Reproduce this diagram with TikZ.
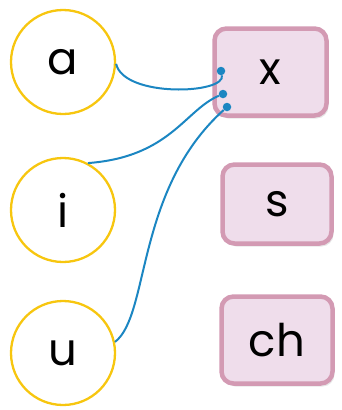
\documentclass[tikz,border=0pt]{standalone}
\usepackage{fontspec}
\setmainfont{Poppins}
\usetikzlibrary{shadows}
\definecolor{ring}{HTML}{F7C60F}
\definecolor{boxline}{HTML}{D39AB3}
\definecolor{boxfill}{HTML}{EFDDEB}
\definecolor{wire}{HTML}{1B86C2}
\tikzset{
 vowel/.style={circle,draw=ring,line width=2.3pt,minimum size=104pt,inner sep=0pt,font=\fontsize{45}{45}\selectfont},
 sound/.style={rectangle,rounded corners=12pt,draw=boxline,fill=boxfill,line width=4.5pt,inner sep=0pt,font=\fontsize{45}{45}\selectfont,
  drop shadow={shadow xshift=2pt,shadow yshift=-3pt,opacity=0.2}},
 dot/.style={circle,fill=wire,inner sep=0pt,minimum size=8.5pt},
 wire/.style={draw=wire,line width=2pt}
}
\begin{document}
\begin{tikzpicture}[x=1pt,y=-1pt]
 \useasboundingbox (0,0) rectangle (342,410);
 \node[vowel] (a) at (63,62) {a};
 \node[vowel] (i) at (63,210) {i};
 \node[vowel] (u) at (63,353) {u};
 \node[sound,minimum width=112pt,minimum height=87pt] (x) at (270.5,72) {x};
 \node[sound,minimum width=109pt,minimum height=79pt] (s) at (277,204) {s};
 \node[sound,minimum width=111pt,minimum height=87pt] (ch) at (277,340) {ch};
 \node[dot] (xa) at (221,71) {};
 \node[dot] (xi) at (223,94) {};
 \node[dot] (xu) at (227,107) {};
 \draw[wire] (a.-2) .. controls (124,98) and (226,94) .. (xa);
 \draw[wire] (i.62) .. controls (170,157) and (185,110) .. (xi);
 \draw[wire] (u.12) .. controls (150,315) and (135,190) .. (xu);
\end{tikzpicture}
\end{document}
